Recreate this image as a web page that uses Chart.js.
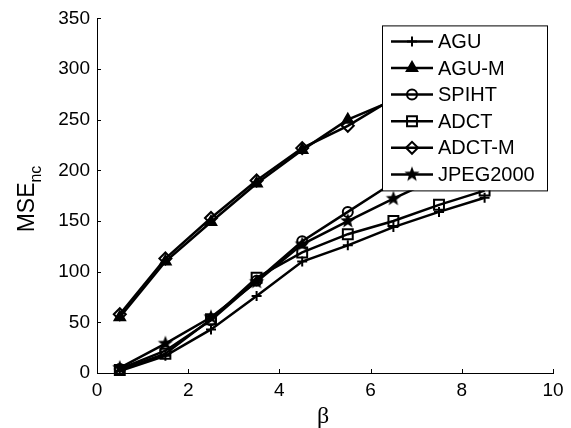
<!DOCTYPE html>
<html>
<head>
<meta charset="utf-8">
<script src="https://cdn.jsdelivr.net/npm/chart.js@4/dist/chart.umd.min.js"></script>
<style>
  html, body { margin: 0; padding: 0; background: #fff; }
</style>
</head>
<body>
<canvas id="mse" width="571" height="428"></canvas>
<script>
const beta = [0.5, 1.5, 2.5, 3.5, 4.5, 5.5, 6.5, 7.5, 8.5];
const agu = [2, 17, 43, 76, 110, 126, 144, 159, 173];
const aguM = [55, 110, 149, 187, 220, 250, 269, 288, 305];
const spiht = [4, 22, 52, 91, 130, 159, 188, 212, 234];
const adct = [3, 19, 53, 94, 119, 137, 150, 166, 180];
const adctM = [58, 113, 153, 190, 222, 244, 271, 290, 307];
const jpeg2000 = [5, 29, 55, 90, 127, 150, 172, 193, 212];
const seriesNames = ['AGU', 'AGU-M', 'SPIHT', 'ADCT', 'ADCT-M', 'JPEG2000'];
const xTicks = [0, 2, 4, 6, 8, 10];
const yTicks = [0, 50, 100, 150, 200, 250, 300, 350];

const FONT = '"Liberation Sans", Arial, sans-serif';

// filled five-point star, like the MATLAB pentagram marker
function makePentagram (r) {
  const c = document.createElement('canvas');
  const s = Math.ceil(r * 2 + 2);
  c.width = s;
  c.height = s;
  const g = c.getContext('2d');
  g.beginPath();
  for (let i = 0; i < 10; i++) {
    const rad = i % 2 === 0 ? r : r * 0.42;
    const a = -Math.PI / 2 + i * Math.PI / 5;
    const px = s / 2 + rad * Math.cos(a);
    const py = s / 2 + rad * Math.sin(a);
    if (i === 0) g.moveTo(px, py); else g.lineTo(px, py);
  }
  g.closePath();
  g.fillStyle = '#000';
  g.fill();
  return c;
}
const star = makePentagram(8);

function series (label, data, pointStyle, radius, filled) {
  return {
    label,
    data: beta.map((b, i) => ({ x: b, y: data[i] })),
    borderColor: '#000',
    borderWidth: 2.5,
    pointStyle,
    pointRadius: radius,
    pointBorderColor: '#000',
    pointBorderWidth: 2,
    pointBackgroundColor: filled ? '#000' : 'rgba(0,0,0,0)',
    fill: false,
    tension: 0,
    clip: false
  };
}

const datasets = [
  series(seriesNames[0], agu, 'cross', 5, false),
  series(seriesNames[1], aguM, 'triangle', 6, true),
  series(seriesNames[2], spiht, 'circle', 5, false),
  series(seriesNames[3], adct, 'rect', 7, false),
  series(seriesNames[4], adctM, 'rectRot', 6, false),
  series(seriesNames[5], jpeg2000, star, 8, true)
];

const matlabLook = {
  id: 'matlabLook',
  beforeDatasetsDraw (chart) {
    const { ctx, chartArea, scales } = chart;
    ctx.save();
    ctx.strokeStyle = '#000';
    ctx.lineWidth = 1;
    ctx.beginPath();
    xTicks.forEach(v => {
      const px = Math.round(scales.x.getPixelForValue(v)) + 0.5;
      ctx.moveTo(px, chartArea.bottom);
      ctx.lineTo(px, chartArea.bottom - 4);
    });
    yTicks.forEach(v => {
      const py = Math.round(scales.y.getPixelForValue(v)) + 0.5;
      ctx.moveTo(chartArea.left, py);
      ctx.lineTo(chartArea.left + 4, py);
    });
    ctx.stroke();
    ctx.restore();
  },
  afterDatasetsDraw (chart) {
    const { ctx, chartArea } = chart;
    const left = chartArea.right - 171;
    const top = chartArea.top + 7;
    const w = 165;
    const h = 165;
    ctx.save();
    ctx.fillStyle = '#fff';
    ctx.fillRect(left, top, w, h);
    ctx.strokeStyle = '#000';
    ctx.lineWidth = 1;
    ctx.strokeRect(left + 0.5, top + 0.5, w, h);
    chart.data.datasets.forEach((ds, i) => {
      const y = top + 16 + i * 26.6;
      ctx.strokeStyle = '#000';
      ctx.lineWidth = 2.5;
      ctx.beginPath();
      ctx.moveTo(left + 9, y);
      ctx.lineTo(left + 51, y);
      ctx.stroke();
      ctx.fillStyle = ds.pointBackgroundColor;
      ctx.strokeStyle = '#000';
      ctx.lineWidth = ds.pointBorderWidth;
      Chart.helpers.drawPoint(ctx, { pointStyle: ds.pointStyle, radius: ds.pointRadius, rotation: 0, borderWidth: ds.pointBorderWidth }, left + 30, y);
      ctx.fillStyle = '#000';
      ctx.font = '20px ' + FONT;
      ctx.textAlign = 'left';
      ctx.textBaseline = 'middle';
      ctx.fillText(ds.label, left + 56, y + 1);
    });
    ctx.restore();
  },
  afterDraw (chart) {
    const { ctx, chartArea } = chart;
    ctx.save();
    ctx.fillStyle = '#000';
    // x title
    ctx.font = '24px "Liberation Serif", "Times New Roman", serif';
    ctx.textAlign = 'center';
    ctx.textBaseline = 'middle';
    ctx.fillText('β', (chartArea.left + chartArea.right) / 2 - 2, 417);
    // y title with subscript
    ctx.translate(34, 199);
    ctx.rotate(-Math.PI / 2);
    ctx.textAlign = 'left';
    ctx.textBaseline = 'alphabetic';
    ctx.font = '23px ' + FONT;
    const w1 = ctx.measureText('MSE').width;
    ctx.font = '16px ' + FONT;
    const w2 = ctx.measureText('nc').width;
    const start = -(w1 + w2) / 2;
    ctx.font = '23px ' + FONT;
    ctx.fillText('MSE', start, 0);
    ctx.font = '16px ' + FONT;
    ctx.fillText('nc', start + w1, 7);
    ctx.restore();
  }
};

// eslint-disable-next-line no-undef
const mseChart = new Chart('mse', {
  type: 'line',
  data: { datasets },
  options: {
    responsive: false,
    animation: false,
    events: [],
    layout: { padding: { left: 0, right: 18, top: 15, bottom: 0 } },
    plugins: {
      legend: { display: false },
      tooltip: { enabled: false }
    },
    scales: {
      x: {
        type: 'linear',
        min: 0,
        max: 10,
        grid: { display: false, drawTicks: false },
        border: { display: true, color: '#000', width: 1 },
        ticks: { stepSize: 2, padding: 6, color: '#000', font: { family: FONT, size: 19 }, maxRotation: 0 },
        afterFit: scale => { scale.height = 55; }
      },
      y: {
        type: 'linear',
        min: 0,
        max: 350,
        grid: { display: false, drawTicks: false },
        border: { display: true, color: '#000', width: 1 },
        ticks: { stepSize: 50, padding: 7, color: '#000', font: { family: FONT, size: 19 } },
        afterFit: scale => { scale.width = 97; }
      }
    }
  },
  plugins: [matlabLook]
});
</script>
</body>
</html>
